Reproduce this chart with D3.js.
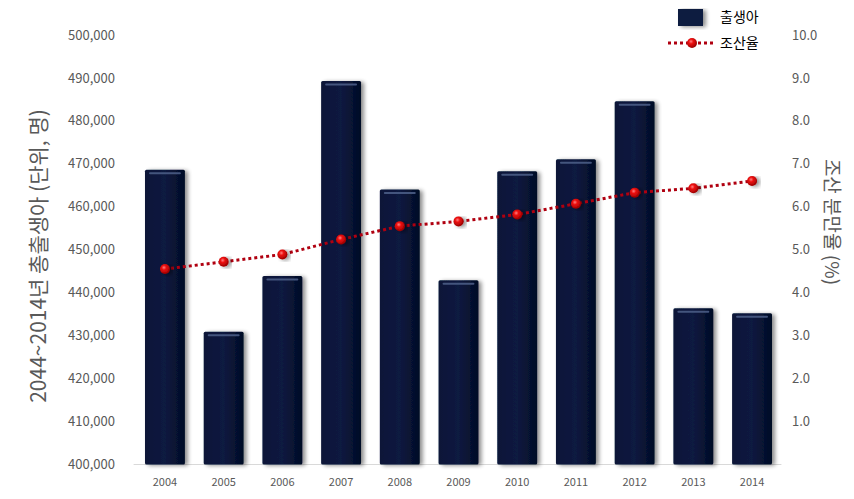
<!DOCTYPE html>
<html><head><meta charset="utf-8">
<script src="https://cdn.jsdelivr.net/npm/d3@7"></script>
<style>
html,body{margin:0;padding:0;background:#fff;}
svg{display:block;font-family:"Noto Sans CJK KR","Noto Sans",sans-serif;}
</style></head>
<body>
<svg id="c" width="854" height="499"></svg>
<script>
const years = ["2004","2005","2006","2007","2008","2009","2010","2011","2012","2013","2014"];
const births = [468600,430900,443900,489300,464000,442900,468300,471100,484600,436400,435200];
const pretermRate = [4.55,4.72,4.89,5.24,5.55,5.66,5.82,6.07,6.33,6.43,6.60];
const leftTicks = [400000,410000,420000,430000,440000,450000,460000,470000,480000,490000,500000];
const rightTicks = [1,2,3,4,5,6,7,8,9,10];
const seriesNames = ["출생아","조산율"];
const leftTitle = "2044~2014년 총출생아 (단위, 명)";
const rightTitle = "조산 분만율 (%)";

const svg = d3.select("#c");
const m = {left:135.6, right:781.4, top:35, bottom:464.5};

const x = d3.scaleBand().domain(years).range([m.left, m.right]).paddingInner(0.32).paddingOuter(0.16);
const yL = d3.scaleLinear().domain([400000,500000]).range([m.bottom, m.top]);
const yR = d3.scaleLinear().domain([0,10]).range([m.bottom, m.top]);

const defs = svg.append("defs");
const bg = defs.append("linearGradient").attr("id","barG").attr("x1",0).attr("x2",1).attr("y1",0).attr("y2",0);
bg.append("stop").attr("offset","0%").attr("stop-color","#081638");
bg.append("stop").attr("offset","50%").attr("stop-color","#0a1a40");
bg.append("stop").attr("offset","100%").attr("stop-color","#040c26");
const sh = defs.append("filter").attr("id","shadow").attr("x","-20%").attr("y","-10%").attr("width","150%").attr("height","130%");
sh.append("feGaussianBlur").attr("in","SourceAlpha").attr("stdDeviation",2);
sh.append("feOffset").attr("dx",3).attr("dy",1).attr("result","b");
sh.append("feComponentTransfer").append("feFuncA").attr("type","linear").attr("slope",0.45);
const fm = sh.append("feMerge"); fm.append("feMergeNode"); fm.append("feMergeNode").attr("in","SourceGraphic");
const rg = defs.append("radialGradient").attr("id","ball").attr("cx","40%").attr("cy","35%").attr("r","65%");
rg.append("stop").attr("offset","0%").attr("stop-color","#ff8080");
rg.append("stop").attr("offset","35%").attr("stop-color","#ee1111");
rg.append("stop").attr("offset","100%").attr("stop-color","#990000");

// left axis labels
const tickFont = 13;
svg.append("g").selectAll("text").data(leftTicks).join("text")
  .attr("x",115).attr("y",d=>yL(d)).attr("dy","0.35em").attr("text-anchor","end")
  .attr("font-size",tickFont).attr("fill","#595959").text(d=>d3.format(",")(d));
// right axis labels
svg.append("g").selectAll("text").data(rightTicks).join("text")
  .attr("x",792).attr("y",d=>yR(d)).attr("dy","0.35em").attr("text-anchor","start")
  .attr("font-size",tickFont).attr("fill","#595959").text(d=>d3.format(".1f")(d));

// baseline
svg.append("line").attr("x1",m.left-2).attr("x2",m.right).attr("y1",m.bottom).attr("y2",m.bottom)
  .attr("stroke","#d9d9d9").attr("stroke-width",1);

// x labels
svg.append("g").selectAll("text").data(years).join("text")
  .attr("x",d=>x(d)+x.bandwidth()/2).attr("y",482).attr("dy","0.35em").attr("text-anchor","middle")
  .attr("font-size",11).attr("fill","#595959").text(d=>d);

// bars
const bars = svg.append("g").selectAll("g").data(years.map((y,i)=>({y,v:births[i]}))).join("g");
bars.append("rect").attr("x",d=>x(d.y)).attr("y",d=>yL(d.v)).attr("width",x.bandwidth())
  .attr("height",d=>m.bottom-yL(d.v)).attr("rx",1.5).attr("fill","url(#barG)").attr("filter","url(#shadow)");
bars.append("rect").attr("x",d=>x(d.y)+4).attr("y",d=>yL(d.v)+2.5).attr("width",x.bandwidth()-8)
  .attr("height",2).attr("rx",1).attr("fill","#4a5c85").attr("opacity",0.9);

// line
const pts = years.map((y,i)=>[x(y)+x.bandwidth()/2, yR(pretermRate[i])]);
svg.append("path").attr("d",d3.line()(pts)).attr("fill","none").attr("stroke","#b00010")
  .attr("stroke-width",3).attr("stroke-dasharray","3,3");
svg.append("g").selectAll("circle").data(pts).join("circle")
  .attr("cx",d=>d[0]).attr("cy",d=>d[1]).attr("r",5).attr("fill","url(#ball)").attr("filter","url(#shadow)");

// axis titles
svg.append("text").attr("transform","translate(39,256) rotate(-90)").attr("text-anchor","middle")
  .attr("dy","0.35em").attr("font-size",21).attr("fill","#595959").text(leftTitle);
svg.append("text").attr("transform","translate(832,222) rotate(90)").attr("text-anchor","middle")
  .attr("dy","0.35em").attr("font-size",19).attr("fill","#595959").text(rightTitle);

// legend
svg.append("rect").attr("x",678).attr("y",9).attr("width",25).attr("height",17).attr("fill","#0a1a40").attr("filter","url(#shadow)");
svg.append("text").attr("x",720).attr("y",17).attr("dy","0.35em").attr("font-size",14).attr("fill","#000").text(seriesNames[0]);
svg.append("line").attr("x1",668).attr("x2",714).attr("y1",43).attr("y2",43).attr("stroke","#b00010")
  .attr("stroke-width",3).attr("stroke-dasharray","3,3");
svg.append("circle").attr("cx",692).attr("cy",43).attr("r",5).attr("fill","url(#ball)");
svg.append("text").attr("x",720).attr("y",43).attr("dy","0.35em").attr("font-size",14).attr("fill","#000").text(seriesNames[1]);
</script>
</body></html>
